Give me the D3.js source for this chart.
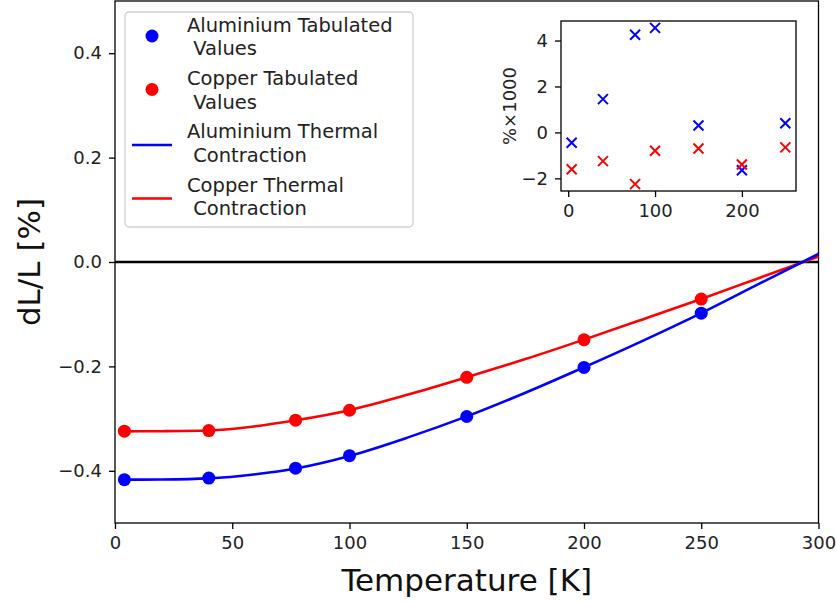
<!DOCTYPE html>
<html>
<head>
<meta charset="utf-8">
<script src="https://cdn.jsdelivr.net/npm/d3@7"></script>
<style>
  html, body { margin: 0; padding: 0; background: #fff; }
  svg { display: block; font-family: "DejaVu Sans", sans-serif; }
</style>
</head>
<body>
<svg id="chart" width="837" height="602"></svg>
<script>
// Tabulated thermal contraction, dL/L relative to room temperature [%]
const temps = [4, 40, 77, 100, 150, 200, 250];
const alTab = [-0.417, -0.414, -0.395, -0.371, -0.296, -0.202, -0.098];
const cuTab = [-0.324, -0.323, -0.303, -0.284, -0.221, -0.149, -0.071];

// Fitted contraction curves
const fitT  = [4, 20, 40, 60, 77, 100, 125, 150, 175, 200, 225, 250, 275, 300];
const alFit = [-0.417, -0.4166, -0.4145, -0.4065, -0.3955, -0.3715, -0.336, -0.2958, -0.2505, -0.2017, -0.151, -0.0978, -0.041, 0.0155];
const cuFit = [-0.3244, -0.3241, -0.3228, -0.3148, -0.3033, -0.2838, -0.254, -0.2207, -0.186, -0.1487, -0.110, -0.0707, -0.030, 0.0105];

// Fit residuals [% x 1000]
const alRes = [-0.45, 1.45, 4.25, 4.55, 0.3, -1.65, 0.4];
const cuRes = [-1.6, -1.25, -2.25, -0.8, -0.7, -1.4, -0.65];

const xTicks = [0, 50, 100, 150, 200, 250, 300];
const yTicks = [-0.4, -0.2, 0.0, 0.2, 0.4];
const insetXTicks = [0, 100, 200];
const insetYTicks = [-2, 0, 2, 4];

const legendLabels = [
  ["Aluminium Tabulated", " Values"],
  ["Copper Tabulated", " Values"],
  ["Aluminium Thermal", " Contraction"],
  ["Copper Thermal", " Contraction"]
];

const BLUE = "#0000ff", RED = "#ff0000";
const svg = d3.select("#chart");

// ---- main axes ----
const M = { left: 115, right: 818.5, top: 1, bottom: 523 };
const x = d3.scaleLinear().domain([0, 300]).range([M.left, M.right]);
const y = d3.scaleLinear().domain([-0.5, 0.5]).range([M.bottom, M.top]);

const fmt1 = d3.format(".1f");

const gx = svg.append("g").attr("transform", `translate(0,${M.bottom})`)
  .call(d3.axisBottom(x).tickValues(xTicks).tickSize(6).tickPadding(7).tickFormat(d3.format("d")));
const gy = svg.append("g").attr("transform", `translate(${M.left},0)`)
  .call(d3.axisLeft(y).tickValues(yTicks).tickSize(6).tickPadding(7).tickFormat(fmt1));
[gx, gy].forEach(g => {
  g.select(".domain").remove();
  g.selectAll("line").attr("stroke", "#000").attr("stroke-width", 1.3);
  g.selectAll("text").attr("font-size", 18).attr("fill", "#222")
    .attr("font-family", "DejaVu Sans");
});

// frame
svg.append("rect").attr("x", M.left).attr("y", M.top)
  .attr("width", M.right - M.left).attr("height", M.bottom - M.top)
  .attr("fill", "none").attr("stroke", "#000").attr("stroke-width", 1.3);

// zero reference line
svg.append("line").attr("x1", x(0)).attr("x2", x(300))
  .attr("y1", y(0)).attr("y2", y(0)).attr("stroke", "#000").attr("stroke-width", 2.5);

const line = d3.line().x(d => x(d[0])).y(d => y(d[1])).curve(d3.curveMonotoneX);
svg.append("path").datum(d3.zip(fitT, cuFit)).attr("d", line)
  .attr("fill", "none").attr("stroke", RED).attr("stroke-width", 2.6);
svg.append("path").datum(d3.zip(fitT, alFit)).attr("d", line)
  .attr("fill", "none").attr("stroke", BLUE).attr("stroke-width", 2.6);

svg.append("g").selectAll("circle").data(d3.zip(temps, alTab)).join("circle")
  .attr("cx", d => x(d[0])).attr("cy", d => y(d[1])).attr("r", 6.5).attr("fill", BLUE);
svg.append("g").selectAll("circle").data(d3.zip(temps, cuTab)).join("circle")
  .attr("cx", d => x(d[0])).attr("cy", d => y(d[1])).attr("r", 6.5).attr("fill", RED);

// axis titles
svg.append("text").attr("x", (M.left + M.right) / 2).attr("y", 591)
  .attr("text-anchor", "middle").attr("font-size", 31).attr("fill", "#111")
  .text("Temperature [K]");
svg.append("text").attr("transform", `translate(40,${(M.top + M.bottom) / 2}) rotate(-90)`)
  .attr("text-anchor", "middle").attr("font-size", 31).attr("fill", "#111")
  .text("dL/L [%]");

// ---- legend ----
const L = { x: 125, y: 12, w: 288, h: 215 };
svg.append("rect").attr("x", L.x).attr("y", L.y).attr("width", L.w).attr("height", L.h)
  .attr("rx", 4).attr("fill", "#fff").attr("fill-opacity", 0.85)
  .attr("stroke", "#d0d0d0").attr("stroke-width", 1.3);
const rowY = [36, 89.5, 142.5, 196];
legendLabels.forEach((lab, i) => {
  const cy = rowY[i];
  if (i < 2) {
    svg.append("circle").attr("cx", 152).attr("cy", cy).attr("r", 6.5).attr("fill", i === 0 ? BLUE : RED);
  } else {
    svg.append("line").attr("x1", 132).attr("x2", 172).attr("y1", cy + 2.5).attr("y2", cy + 2.5)
      .attr("stroke", i === 2 ? BLUE : RED).attr("stroke-width", 2.6);
  }
  const t = svg.append("text").attr("font-size", 19.5).attr("fill", "#222")
    .attr("xml:space", "preserve").style("white-space", "pre");
  t.append("tspan").attr("x", 187).attr("y", cy - 4.5).text(lab[0]);
  t.append("tspan").attr("x", 187).attr("y", cy + 19).text(lab[1]);
});

// ---- inset: residuals ----
const I = { left: 561, right: 796, top: 21, bottom: 191 };
const xi = d3.scaleLinear().domain([-8.3, 262.3]).range([I.left, I.right]);
const yi = d3.scaleLinear().domain([-2.55, 4.85]).range([I.bottom, I.top]);

svg.append("rect").attr("x", I.left).attr("y", I.top)
  .attr("width", I.right - I.left).attr("height", I.bottom - I.top)
  .attr("fill", "#fff").attr("stroke", "#000").attr("stroke-width", 1.3);

const gxi = svg.append("g").attr("transform", `translate(0,${I.bottom})`)
  .call(d3.axisBottom(xi).tickValues(insetXTicks).tickSize(6).tickPadding(7).tickFormat(d3.format("d")));
const gyi = svg.append("g").attr("transform", `translate(${I.left},0)`)
  .call(d3.axisLeft(yi).tickValues(insetYTicks).tickSize(6).tickPadding(7).tickFormat(d => d3.format("d")(d)));
[gxi, gyi].forEach(g => {
  g.select(".domain").remove();
  g.selectAll("line").attr("stroke", "#000").attr("stroke-width", 1.3);
  g.selectAll("text").attr("font-size", 18).attr("fill", "#222")
    .attr("font-family", "DejaVu Sans");
});

svg.append("text").attr("transform", `translate(516,${(I.top + I.bottom) / 2}) rotate(-90)`)
  .attr("text-anchor", "middle").attr("font-size", 18).attr("fill", "#222")
  .text("%×1000");

function crosses(vals, color) {
  const s = 5;
  svg.append("g").selectAll("path").data(d3.zip(temps, vals)).join("path")
    .attr("d", d => {
      const cx = xi(d[0]), cy = yi(d[1]);
      return `M${cx - s},${cy - s}L${cx + s},${cy + s}M${cx - s},${cy + s}L${cx + s},${cy - s}`;
    })
    .attr("stroke", color).attr("stroke-width", 2).attr("fill", "none");
}
crosses(alRes, BLUE);
crosses(cuRes, RED);
</script>
</body>
</html>
